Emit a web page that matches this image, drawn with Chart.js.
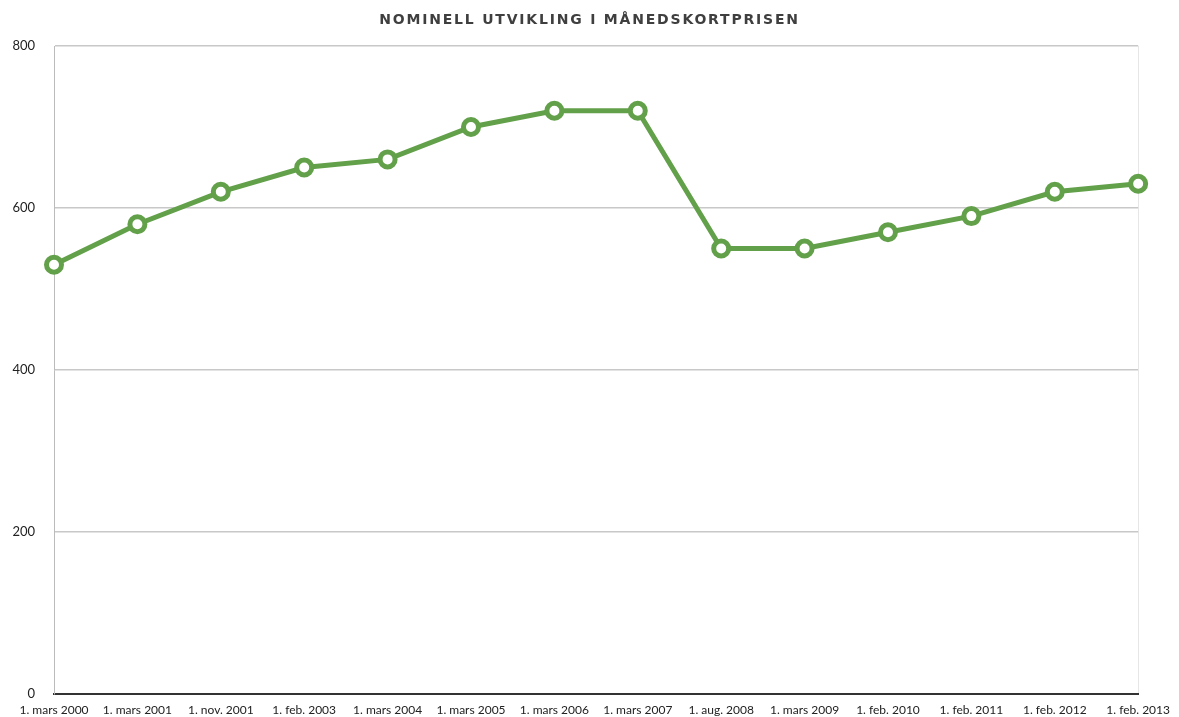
<!DOCTYPE html>
<html>
<head>
<meta charset="utf-8">
<script src="https://cdn.jsdelivr.net/npm/chart.js@4"></script>
<style>
  html, body { margin: 0; padding: 0; background: #fff; }
  #wrap { width: 1179px; height: 717px; }
</style>
</head>
<body>
<div id="wrap"><canvas id="prisChart" width="1179" height="717"></canvas></div>
<script>
const title = 'NOMINELL UTVIKLING I MÅNEDSKORTPRISEN';

const dates = [
    '1. mars 2000', '1. mars 2001', '1. nov. 2001', '1. feb. 2003',
    '1. mars 2004', '1. mars 2005', '1. mars 2006', '1. mars 2007',
    '1. aug. 2008', '1. mars 2009', '1. feb. 2010', '1. feb. 2011',
    '1. feb. 2012', '1. feb. 2013'
];

const prices = [530, 580, 620, 650, 660, 700, 720, 720, 550, 550, 570, 590, 620, 630];

const yTicks = [0, 200, 400, 600, 800];

const green = '#62a049';
const font = 'Lato, "Open Sans", sans-serif';

// wider letter spacing for the title only
const spacedTitle = {
    id: 'spacedTitle',
    beforeDraw(chart) {
        const t = chart.titleBlock;
        if (!t || t._spaced) return;
        const orig = t.draw;
        t.draw = function (...args) {
            const ctx = this.ctx;
            ctx.save();
            ctx.letterSpacing = '1.8px';
            orig.apply(this, args);
            ctx.restore();
        };
        t._spaced = true;
    }
};

new Chart(document.getElementById('prisChart'), {
    type: 'line',
    data: {
        labels: dates,
        datasets: [{
            data: prices,
            borderColor: green,
            borderWidth: 5,
            pointRadius: 7.5,
            pointHoverRadius: 7.5,
            pointBorderWidth: 5,
            pointBorderColor: green,
            pointBackgroundColor: '#fff',
            tension: 0,
            clip: false
        }]
    },
    plugins: [spacedTitle],
    options: {
        responsive: false,
        animation: false,
        layout: { padding: 0 },
        plugins: {
            legend: { display: false },
            tooltip: { enabled: false },
            title: {
                display: true,
                text: title,
                color: '#3f3f3f',
                font: { family: '"DejaVu Sans", sans-serif', size: 14, weight: 'bold', lineHeight: 1.2 },
                padding: { top: 12, bottom: 17.2 }
            }
        },
        scales: {
            x: {
                offset: false,
                grid: {
                    drawTicks: false,
                    color: ctx => ctx.index === dates.length - 1 ? '#e6e6e6' : 'rgba(0,0,0,0)'
                },
                border: { color: '#333', width: 2 },
                ticks: {
                    color: '#222',
                    font: { family: font, size: 12 },
                    padding: 9,
                    maxRotation: 0,
                    autoSkip: false
                },
                afterFit: s => { s.height = 23; }
            },
            y: {
                min: 0,
                max: 800,
                afterBuildTicks: s => { s.ticks = yTicks.map(v => ({ value: v })); },
                grid: {
                    color: '#c8c8c8',
                    lineWidth: 1.5,
                    drawTicks: true,
                    tickLength: 19,
                    tickColor: 'rgba(0,0,0,0)'
                },
                border: { color: '#bbb', width: 1 },
                ticks: {
                    color: '#222',
                    font: { family: font, size: 13 },
                    padding: 0
                },
                afterFit: s => { s.width = 54; }
            },
            // empty right axis, only keeps room on the right of the plot
            yPad: {
                position: 'right',
                grid: { display: false },
                border: { display: false },
                ticks: { display: false },
                afterFit: s => { s.width = 40; }
            }
        }
    }
});
</script>
</body>
</html>
